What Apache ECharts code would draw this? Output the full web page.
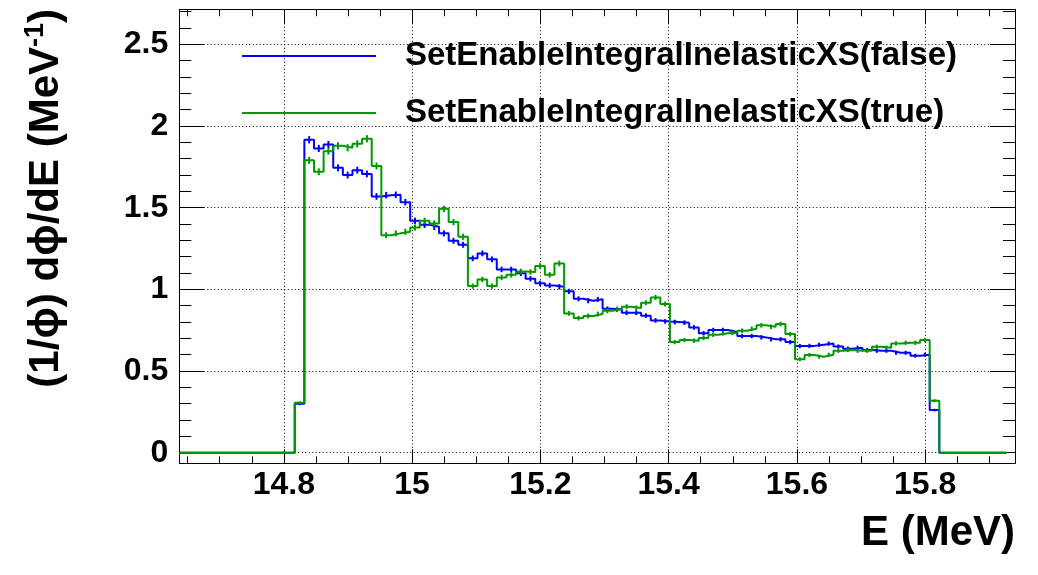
<!DOCTYPE html>
<html>
<head>
<meta charset="utf-8">
<script src="https://cdn.jsdelivr.net/npm/echarts@6/dist/echarts.min.js"></script>
<style>
  html, body { margin: 0; padding: 0; background: #ffffff; }
  #chart { width: 1038px; height: 575px; }
</style>
</head>
<body>
<div id="chart"></div>
<script>
// histogram binning (the filled bins sit inside a longer, mostly empty range)
const BIN_START = 14.637;
const BIN_WIDTH = 0.015;
const BIN_COUNT = 86;
const FIRST_FILLED_BIN = 12;

const seriesNames = [
  "SetEnableIntegralInelasticXS(false)",
  "SetEnableIntegralInelasticXS(true)"
];

// bin contents, first filled bin onwards
const valuesFalse = [
  0.30, 1.916, 1.863, 1.887, 1.744, 1.70, 1.73, 1.707, 1.569, 1.577,
  1.579, 1.534, 1.42, 1.395, 1.383, 1.343, 1.297, 1.273, 1.19, 1.22,
  1.184, 1.122, 1.122, 1.098, 1.065, 1.037, 1.024, 1.016, 0.988, 0.942,
  0.930, 0.939, 0.881, 0.878, 0.857, 0.857, 0.839, 0.81, 0.804, 0.80,
  0.796, 0.767, 0.731, 0.751, 0.751, 0.739, 0.714, 0.714, 0.706, 0.694,
  0.694, 0.677, 0.653, 0.654, 0.661, 0.668, 0.650, 0.637, 0.643, 0.629,
  0.624, 0.624, 0.612, 0.612, 0.594, 0.60, 0.261
];

const valuesTrue = [
  0.306, 1.79, 1.72, 1.846, 1.879, 1.867, 1.891, 1.922, 1.756, 1.332,
  1.343, 1.353, 1.379, 1.42, 1.404, 1.493, 1.412, 1.322, 1.02, 1.061,
  1.02, 1.073, 1.089, 1.110, 1.106, 1.143, 1.089, 1.159, 0.853, 0.824,
  0.837, 0.849, 0.869, 0.878, 0.894, 0.886, 0.918, 0.951, 0.910, 0.677,
  0.69, 0.686, 0.702, 0.722, 0.731, 0.734, 0.747, 0.759, 0.78, 0.771,
  0.788, 0.726, 0.572, 0.598, 0.588, 0.60, 0.624, 0.629, 0.624, 0.624,
  0.649, 0.643, 0.669, 0.673, 0.673, 0.69, 0.318
];

const xMajorTicks = [14.8, 15, 15.2, 15.4, 15.6, 15.8];
const xMinorTicks = [
  14.65, 14.7, 14.75, 14.8, 14.85, 14.9, 14.95, 15, 15.05, 15.1, 15.15, 15.2,
  15.25, 15.3, 15.35, 15.4, 15.45, 15.5, 15.55, 15.6, 15.65, 15.7, 15.75,
  15.8, 15.85, 15.9
];
const yMajorTicks = [0, 0.5, 1, 1.5, 2, 2.5];
const yMinorTicks = [
  0, 0.1, 0.2, 0.3, 0.4, 0.5, 0.6, 0.7, 0.8, 0.9, 1, 1.1, 1.2, 1.3, 1.4,
  1.5, 1.6, 1.7, 1.8, 1.9, 2, 2.1, 2.2, 2.3, 2.4, 2.5, 2.6, 2.7
];

// statistical error scale used for the little vertical error bars
const ERR_SCALE = 0.016;

const X_MIN = 14.637;
const X_MAX = 15.94;
const Y_MIN = -0.065;
const Y_MAX = 2.715;

const COLORS = ["#0000ff", "#009900"];
const FONT = "Liberation Sans, Arial, Helvetica, sans-serif";

function histPoints(values) {
  const full = new Array(BIN_COUNT).fill(0);
  values.forEach((v, i) => { full[FIRST_FILLED_BIN + i] = v; });
  const pts = full.map((v, i) => [BIN_START + i * BIN_WIDTH, v]);
  pts.push([BIN_START + BIN_COUNT * BIN_WIDTH, full[BIN_COUNT - 1]]);
  return pts;
}

function errorPoints(values) {
  return values.map((v, i) => [BIN_START + (FIRST_FILLED_BIN + i + 0.5) * BIN_WIDTH, v]);
}

const GRID_BOX = { left: 179.3, right: 23, top: 9.3, bottom: 111.7 };

function xAxisDef(gridIndex, position, ticks, tickLen, main) {
  return {
    type: "value",
    gridIndex,
    position,
    min: X_MIN,
    max: X_MAX,
    axisLine: { show: main, onZero: false, lineStyle: { color: "#000", width: 1 } },
    axisTick: { show: true, inside: true, length: tickLen, customValues: ticks,
      lineStyle: { color: "#000", width: 1 } },
    axisLabel: {
      show: main && position === "bottom",
      customValues: ticks,
      color: "#000",
      fontFamily: FONT,
      fontWeight: "bold",
      fontSize: 32,
      margin: 6,
      formatter: v => String(+v.toFixed(2))
    },
    splitLine: {
      show: main && position === "bottom",
      lineStyle: { color: "#000", width: 1, type: [1, 2.5] }
    }
  };
}

function yAxisDef(gridIndex, position, ticks, tickLen, main) {
  return {
    type: "value",
    gridIndex,
    position,
    min: Y_MIN,
    max: Y_MAX,
    axisLine: { show: main, onZero: false, lineStyle: { color: "#000", width: 1 } },
    axisTick: { show: true, inside: true, length: tickLen, customValues: ticks,
      lineStyle: { color: "#000", width: 1 } },
    axisLabel: {
      show: main && position === "left",
      customValues: ticks,
      color: "#000",
      fontFamily: FONT,
      fontWeight: "bold",
      fontSize: 32,
      margin: 11,
      formatter: v => String(+v.toFixed(2))
    },
    splitLine: {
      show: main && position === "left",
      lineStyle: { color: "#000", width: 1, type: [1, 2.5] }
    }
  };
}

const chart = echarts.init(document.getElementById("chart"));

const lineSeries = [valuesFalse, valuesTrue].map((vals, k) => ({
  name: seriesNames[k],
  type: "line",
  xAxisIndex: 0,
  yAxisIndex: 0,
  step: "end",
  symbol: "none",
  data: histPoints(vals),
  lineStyle: { color: COLORS[k], width: 2 },
  itemStyle: { color: COLORS[k] },
  z: 3 + k
}));

const errorSeries = [valuesFalse, valuesTrue].map((vals, k) => ({
  name: "err" + k,
  type: "custom",
  xAxisIndex: 0,
  yAxisIndex: 0,
  data: errorPoints(vals),
  z: 3 + k,
  renderItem: (params, api) => {
    const x = api.value(0);
    const v = api.value(1);
    const e = ERR_SCALE * Math.sqrt(v);
    const p1 = api.coord([x, v - e]);
    const p2 = api.coord([x, v + e]);
    return {
      type: "line",
      shape: { x1: p1[0], y1: p1[1], x2: p2[0], y2: p2[1] },
      style: { stroke: COLORS[k], lineWidth: 2 }
    };
  }
}));

chart.setOption({
  animation: false,
  backgroundColor: "#ffffff",
  grid: [
    Object.assign({ show: false }, GRID_BOX),
    Object.assign({ show: false }, GRID_BOX)
  ],
  xAxis: [
    xAxisDef(0, "bottom", xMajorTicks, 14, true),
    xAxisDef(0, "top", xMajorTicks, 14, true),
    xAxisDef(1, "bottom", xMinorTicks, 7, false),
    xAxisDef(1, "top", xMinorTicks, 7, false)
  ],
  yAxis: [
    yAxisDef(0, "left", yMajorTicks, 25, true),
    yAxisDef(0, "right", yMajorTicks, 25, true),
    yAxisDef(1, "left", yMinorTicks, 12, false),
    yAxisDef(1, "right", yMinorTicks, 12, false)
  ],
  legend: {
    data: seriesNames,
    orient: "vertical",
    left: 242,
    top: 38,
    padding: 0,
    icon: "rect",
    itemWidth: 134,
    itemHeight: 2,
    itemGap: 21,
    textStyle: {
      color: "#000",
      fontFamily: FONT,
      fontWeight: "bold",
      fontSize: 33,
      lineHeight: 36,
      padding: [0, 0, 0, 24]
    }
  },
  graphic: [
    {
      type: "text",
      right: 23,
      top: 512,
      style: {
        text: "E (MeV)",
        fill: "#000",
        font: "bold 42px " + FONT
      }
    },
    {
      type: "text",
      x: 46,
      y: 9,
      rotation: Math.PI / 2,
      style: {
        text: "{a|(1/ϕ) dϕ/dE (MeV}{s|-1}{a|)}",
        align: "right",
        verticalAlign: "middle",
        fill: "#000",
        rich: {
          a: { fontFamily: FONT, fontWeight: "bold", fontSize: 42, lineHeight: 48, fill: "#000" },
          s: { fontFamily: FONT, fontWeight: "bold", fontSize: 27, lineHeight: 48,
               verticalAlign: "top", padding: [0, 0, 15, 0], fill: "#000" }
        }
      }
    }
  ],
  series: lineSeries.concat(errorSeries)
});
</script>
</body>
</html>
